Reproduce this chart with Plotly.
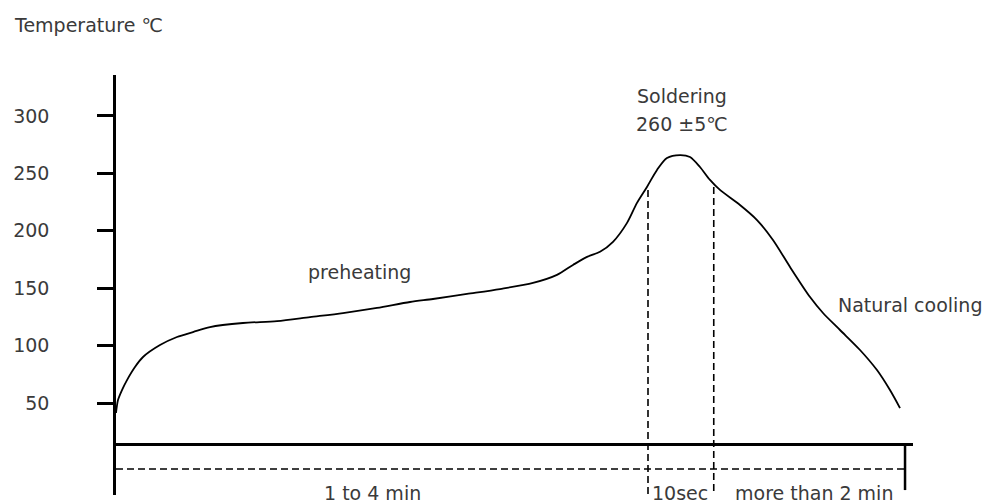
import plotly.graph_objects as go

# Reflow soldering profile (schematic)
time_units = [0, 0.25, 0.75, 1.38, 2.38, 3.39, 5.52, 7.65, 9.66, 11.79, 15.93, 20.2,
              24.34, 28.48, 32.75, 36.89, 39.77, 44.04, 48.18, 52.32, 55.33, 57.34,
              59.1, 60.73, 62.36, 64.12, 65.37, 66.62, 67.88, 69.13, 70.77, 72.02,
              73.27, 74.53, 75.78, 78.29, 80.43, 82.43, 84.57, 87.08, 88.71, 90.84,
              93.35, 95.48, 97.11, 98.37]
temperature_c = [41.3, 52.6, 61.3, 70.0, 81.4, 90.1, 100.5, 107.5, 111.8, 116.2, 119.7, 121.4,
                 124.9, 128.4, 132.8, 138.0, 140.6, 145.0, 149.3, 154.6, 161.6, 170.3,
                 177.3, 181.7, 190.4, 206.9, 224.3, 238.2, 253.0, 263.4, 266.0, 264.3,
                 255.6, 244.3, 235.6, 222.5, 209.4, 192.0, 168.5, 142.3, 128.4, 113.6,
                 96.2, 78.7, 61.3, 45.6]

temp_ticks = [50, 100, 150, 200, 250, 300]

# phase boundaries (time) and their temperatures on the curve
solder_start_t, solder_start_temp = 66.75, 235.5
solder_end_t, solder_end_temp = 75.0, 238.2
profile_end_t = 99.0

phase_labels = ["1 to 4 min", "10sec", "more than 2 min"]
phase_label_t = [32.2, 70.8, 87.6]

FONT = "DejaVu Sans"
TXT = "#3a3a3a"

fig = go.Figure()
fig.add_trace(go.Scatter(
    x=time_units, y=temperature_c, mode="lines",
    line=dict(color="black", width=1.8, shape="spline", smoothing=0.8),
    hoverinfo="skip", showlegend=False, cliponaxis=False,
))

dash = "7px,4px"
shapes = [
    # soldering window boundaries
    dict(type="line", xref="x", yref="y", x0=solder_start_t, x1=solder_start_t,
         y0=solder_start_temp, y1=-30, line=dict(color="black", width=1.6, dash=dash)),
    dict(type="line", xref="x", yref="y", x0=solder_end_t, x1=solder_end_t,
         y0=solder_end_temp, y1=-30, line=dict(color="black", width=1.6, dash=dash)),
    # duration line
    dict(type="line", xref="x", yref="y", x0=0, x1=profile_end_t,
         y0=-7.5, y1=-7.5, line=dict(color="black", width=1.6, dash=dash)),
    # end marker
    dict(type="line", xref="x", yref="y", x0=profile_end_t, x1=profile_end_t,
         y0=13.4, y1=-25.8, line=dict(color="black", width=2.5)),
]

ann_font = dict(family=FONT, size=19, color=TXT)
annotations = [
    dict(text="Temperature ℃", xref="paper", yref="paper", x=0.012, y=0.950,
         xanchor="left", yanchor="middle", showarrow=False, font=ann_font),
    dict(text="Soldering", xref="x", yref="y", x=71.0, y=317.4,
         xanchor="center", yanchor="middle", showarrow=False, font=ann_font),
    dict(text="260 ±5℃", xref="x", yref="y", x=71.0, y=293.0,
         xanchor="center", yanchor="middle", showarrow=False, font=ann_font),
    dict(text="preheating", xref="x", yref="y", x=30.5, y=164.1,
         xanchor="center", yanchor="middle", showarrow=False, font=ann_font),
    dict(text="Natural cooling", xref="x", yref="y", x=99.6, y=135.4,
         xanchor="center", yanchor="middle", showarrow=False, font=ann_font),
    dict(text="Time", xref="x", yref="y", x=103.8, y=17.8,
         xanchor="left", yanchor="middle", showarrow=False, font=ann_font),
]
for lbl, t in zip(phase_labels, phase_label_t):
    annotations.append(dict(text=lbl, xref="x", yref="y", x=t, y=-28.6,
                            xanchor="center", yanchor="middle", showarrow=False,
                            font=ann_font))

fig.update_layout(
    width=990, height=504, autosize=False,
    margin=dict(l=0, r=0, t=0, b=0),
    paper_bgcolor="white", plot_bgcolor="white",
    shapes=shapes, annotations=annotations,
    xaxis=dict(range=[0, 100], domain=[116 / 990, 913 / 990],
               anchor="free", position=60 / 504,
               showline=True, linecolor="black", linewidth=2.5,
               showgrid=False, zeroline=False, ticks="", showticklabels=False),
    yaxis=dict(range=[-30.1, 335.7], domain=[9 / 504, 429 / 504],
               anchor="x", side="left",
               showline=True, linecolor="black", linewidth=2.5,
               showgrid=False, zeroline=False,
               ticks="outside", ticklen=16, tickwidth=2.5, tickcolor="black",
               tickvals=temp_ticks, ticklabelstandoff=44,
               tickfont=dict(family=FONT, size=19, color=TXT)),
)

fig.write_html(
    "out.html",
    config={"displayModeBar": False},
    post_script="document.body.style.margin='0';document.body.style.overflow='hidden';",
)
